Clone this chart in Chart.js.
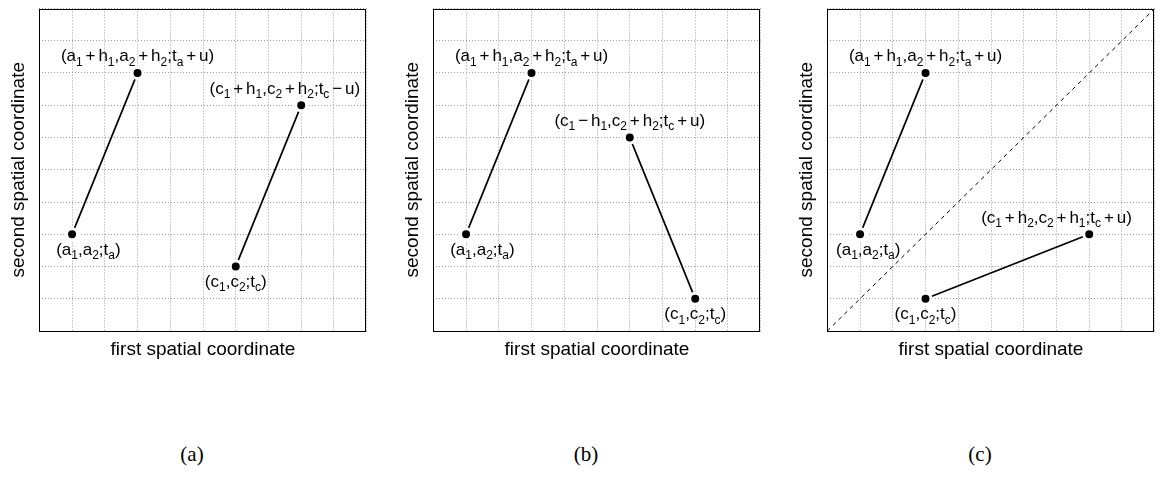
<!DOCTYPE html>
<html>
<head>
<meta charset="utf-8">
<script src="https://cdn.jsdelivr.net/npm/chart.js"></script>
<style>
  body { margin: 0; background: #fff; }
  #wrap { position: relative; width: 1162px; height: 478px; overflow: hidden; }
  #wrap canvas { position: absolute; top: 0; }
  .cap { position: absolute; top: 444px; width: 60px; text-align: center;
         font-family: "Liberation Serif", serif; font-size: 21px; line-height: 21px; color: #000; }
</style>
</head>
<body>
<div id="wrap">
  <canvas id="panelA" width="394" height="370" style="left:0px"></canvas>
  <canvas id="panelB" width="394" height="370" style="left:394px"></canvas>
  <canvas id="panelC" width="394" height="370" style="left:788px"></canvas>
  <div class="cap" style="left:162px">(a)</div>
  <div class="cap" style="left:556px">(b)</div>
  <div class="cap" style="left:950px">(c)</div>
</div>
<script>
// point pairs (start, shifted end) for each panel
var pairA_a = [[1, 3], [3, 8]];
var pairC_a = [[6, 2], [8, 7]];
var pairA_b = [[1, 3], [3, 8]];
var pairC_b = [[8, 1], [6, 6]];
var pairA_c = [[1, 3], [3, 8]];
var pairC_c = [[3, 1], [8, 3]];
var diagonal_c = [[0, 0], [10, 10]];

// text labels, "_x" = subscript x
var labels_a = ["(a_1 + h_1,a_2 + h_2;t_a + u)", "(a_1,a_2;t_a)", "(c_1 + h_1,c_2 + h_2;t_c \u2212 u)", "(c_1,c_2;t_c)"];
var labelPos_a = [[3, 8.5], [1.5, 2.5], [7.5, 7.5], [6, 1.5]];
var labels_b = ["(a_1 + h_1,a_2 + h_2;t_a + u)", "(a_1,a_2;t_a)", "(c_1 \u2212 h_1,c_2 + h_2;t_c + u)", "(c_1,c_2;t_c)"];
var labelPos_b = [[3, 8.5], [1.5, 2.5], [6, 6.5], [8, 0.5]];
var labels_c = ["(a_1 + h_1,a_2 + h_2;t_a + u)", "(a_1,a_2;t_a)", "(c_1 + h_2,c_2 + h_1;t_c + u)", "(c_1,c_2;t_c)"];
var labelPos_c = [[3, 8.5], [1.25, 2.5], [7, 3.5], [3, 0.5]];

var axisMin = 0, axisMax = 10, gridStep = 1;

var SANS = "'Liberation Sans', Arial, sans-serif";

function toXY(arr) {
  return arr.map(function(p){ return {x: p[0], y: p[1]}; });
}

// split "a_1 + h_1" into runs of normal text, subscripts and operator gaps
function tokenize(str) {
  var out = [];
  var run = "";
  for (var i = 0; i < str.length; i++) {
    var ch = str[i];
    if (ch == "_") {
      if (run) { out.push({t: run}); run = ""; }
      out.push({t: str[i+1], sub: true});
      i++;
    } else if (ch == " ") {
      if (run) { out.push({t: run}); run = ""; }
      out.push({gap: true});
    } else {
      run += ch;
    }
  }
  if (run) out.push({t: run});
  return out;
}

function drawMath(ctx, str, cx, cy, size) {
  var subSize = Math.round(size * 0.7);
  var gap = size * 0.17;
  var toks = tokenize(str);
  var w = 0;
  toks.forEach(function(tk){
    if (tk.gap) { tk.w = gap; }
    else {
      ctx.font = (tk.sub ? subSize : size) + "px " + SANS;
      tk.w = ctx.measureText(tk.t).width;
    }
    w += tk.w;
  });
  var x = cx - w / 2;
  var base = cy + size * 0.27;
  ctx.fillStyle = "#000";
  ctx.textBaseline = "alphabetic";
  ctx.textAlign = "left";
  toks.forEach(function(tk){
    if (!tk.gap) {
      ctx.font = (tk.sub ? subSize : size) + "px " + SANS;
      ctx.fillText(tk.t, x, tk.sub ? base + size * 0.25 : base);
    }
    x += tk.w;
  });
}

var frameAndLabels = {
  id: 'frameAndLabels',
  afterDraw: function(chart) {
    var ctx = chart.ctx;
    var a = chart.chartArea;
    var opts = chart.options.plugins.frameAndLabels;
    ctx.save();
    ctx.strokeStyle = "#000";
    ctx.lineWidth = 1;
    ctx.strokeRect(Math.round(a.left) + 0.5, Math.round(a.top) + 0.5,
                   Math.round(a.right - a.left) - 1, Math.round(a.bottom - a.top) - 1);
    var xs = chart.scales.x, ys = chart.scales.y;
    opts.texts.forEach(function(t, i){
      drawMath(ctx, t, xs.getPixelForValue(opts.pos[i][0]), ys.getPixelForValue(opts.pos[i][1]), 17);
    });
    ctx.restore();
  }
};

function segment(pair) {
  return {
    data: toXY(pair),
    showLine: true,
    borderColor: "#000",
    borderWidth: 1.8,
    pointRadius: 5.5,
    pointBackgroundColor: "#000",
    pointBorderColor: "#fff",
    pointBorderWidth: 3
  };
}

function axis(title, pad) {
  return {
    type: 'linear',
    min: axisMin,
    max: axisMax,
    ticks: { display: false, stepSize: gridStep },
    grid: { color: "#9a9a9a", lineWidth: 1, drawTicks: false },
    border: { display: false, dash: [1, 2] },
    title: {
      display: true,
      text: title,
      color: "#000",
      font: { family: SANS, size: 19 },
      padding: pad
    }
  };
}

function makePanel(id, datasets, texts, pos) {
  new Chart(document.getElementById(id), {
    type: 'scatter',
    data: { datasets: datasets },
    options: {
      responsive: false,
      animation: false,
      events: [],
      layout: { padding: { left: 0, top: 3.3, right: 27.3, bottom: 0 } },
      scales: {
        x: axis("first spatial coordinate", { top: 7.6, bottom: 8.6 }),
        y: axis("second spatial coordinate", { top: 7.1, bottom: 9.4 })
      },
      plugins: {
        legend: { display: false },
        tooltip: { enabled: false },
        frameAndLabels: { texts: texts, pos: pos }
      }
    },
    plugins: [frameAndLabels]
  });
}

makePanel("panelA", [segment(pairA_a), segment(pairC_a)], labels_a, labelPos_a);
makePanel("panelB", [segment(pairA_b), segment(pairC_b)], labels_b, labelPos_b);
makePanel("panelC", [
  segment(pairA_c),
  segment(pairC_c),
  { data: toXY(diagonal_c), showLine: true, borderColor: "#000", borderWidth: 1,
    borderDash: [4, 4], pointRadius: 0 }
], labels_c, labelPos_c);
</script>
</body>
</html>
